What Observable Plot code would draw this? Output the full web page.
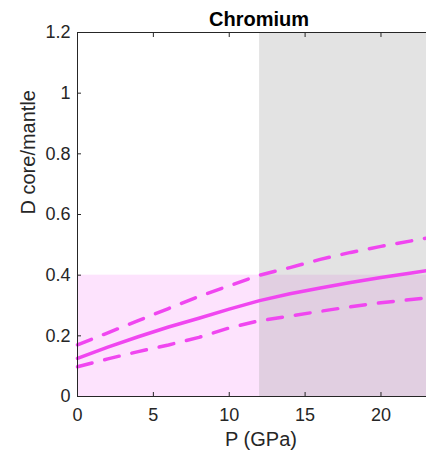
<!DOCTYPE html>
<html>
<head>
<meta charset="utf-8">
<script src="https://cdn.jsdelivr.net/npm/d3@7"></script>
<script src="https://cdn.jsdelivr.net/npm/@observablehq/plot@0.6"></script>
<style>
  html, body { margin: 0; padding: 0; background: #fff; overflow: hidden; }
  svg { display: block; font-family: "Liberation Sans", Arial, Helvetica, sans-serif; }
</style>
</head>
<body>
<div id="chart"></div>
<script>
// ---- data ----
const title = "Chromium";
const xLabel = "P (GPa)";
const yLabel = "D core/mantle";

const pressure = [0, 2, 4, 6, 8, 10, 12, 14, 16, 18, 20, 22, 23];
const dMean    = [0.126, 0.163, 0.197, 0.229, 0.258, 0.288, 0.316, 0.339, 0.358, 0.376, 0.392, 0.407, 0.415];
const dUpper   = [0.170, 0.210, 0.250, 0.290, 0.330, 0.365, 0.400, 0.425, 0.452, 0.475, 0.495, 0.513, 0.522];
const dLower   = [0.098, 0.124, 0.148, 0.170, 0.195, 0.226, 0.250, 0.265, 0.281, 0.296, 0.309, 0.320, 0.325];

const xTicks = [0, 5, 10, 15, 20];
const yTicks = [0, 0.2, 0.4, 0.6, 0.8, 1, 1.2];
const yTickLabels = ["0", "0.2", "0.4", "0.6", "0.8", "1", "1.2"];
const xDomain = [0, 23];
const yDomain = [0, 1.2];

// shaded regions
const pinkP = [0, 23];   const pinkD = [0, 0.4];
const greyP = [12, 23];  const greyD = [0, 1.2];

// ---- build ----
const rows = (ys) => pressure.map((p, i) => ({p, d: ys[i]}));
const lineColor = "#f046f0";
const axisColor = "#262626";

const chart = Plot.plot({
  width: 426,
  height: 457,
  marginLeft: 77,
  marginRight: 0,
  marginTop: 32,
  marginBottom: 61,
  style: {fontFamily: "'Liberation Sans', Arial, Helvetica, sans-serif", fontSize: "18px", color: axisColor, background: "#fff"},
  x: {domain: xDomain, axis: null},
  y: {domain: yDomain, axis: null},
  marks: [
    Plot.rect([0], {x1: () => pinkP[0], x2: () => pinkP[1], y1: () => pinkD[0], y2: () => pinkD[1], fill: "#f000f0", fillOpacity: 0.11}),
    Plot.rect([0], {x1: () => greyP[0], x2: () => greyP[1], y1: () => greyD[0], y2: () => greyD[1], fill: "#a4a4a4", fillOpacity: 0.31}),
    Plot.line(rows(dUpper), {x: "p", y: "d", stroke: lineColor, strokeWidth: 3.5, strokeDasharray: "15,13"}),
    Plot.line(rows(dLower), {x: "p", y: "d", stroke: lineColor, strokeWidth: 3.5, strokeDasharray: "15,13"}),
    Plot.line(rows(dMean), {x: "p", y: "d", stroke: lineColor, strokeWidth: 3.5}),
    // frame lines (left, bottom, top)
    Plot.ruleX([xDomain[0]], {stroke: axisColor, strokeWidth: 1}),
    Plot.ruleY([yDomain[0], yDomain[1]], {stroke: axisColor, strokeWidth: 1}),
    // axes with inward ticks
    Plot.axisX({anchor: "bottom", ticks: xTicks, tickSize: -4, tickPadding: 16, tickFormat: (d) => String(d), stroke: axisColor, fill: axisColor, fontSize: 18, label: null}),
    Plot.axisX({anchor: "top", ticks: xTicks, tickSize: -4, tickFormat: () => "", stroke: axisColor, label: null}),
    Plot.axisY({anchor: "left", ticks: yTicks, tickSize: -4, tickPadding: 11, tickFormat: (d) => yTickLabels[yTicks.findIndex((t) => Math.abs(t - d) < 1e-9)], stroke: axisColor, fill: axisColor, fontSize: 18, label: null}),
    // labels
    Plot.text([title], {frameAnchor: "top", lineAnchor: "bottom", dy: -7, dx: 7, fontSize: 20, fontWeight: "bold", fill: "#000"}),
    Plot.text([xLabel], {frameAnchor: "bottom", lineAnchor: "bottom", dy: 49, dx: 9, fontSize: 20, fill: axisColor}),
    Plot.text([yLabel], {frameAnchor: "left", rotate: -90, dx: -49, fontSize: 20, fill: axisColor})
  ]
});
document.getElementById("chart").appendChild(chart);
</script>
</body>
</html>
